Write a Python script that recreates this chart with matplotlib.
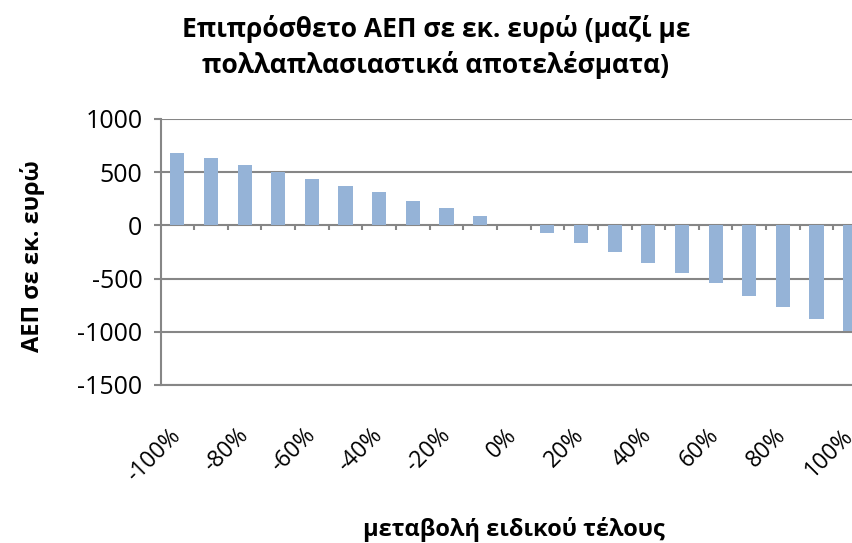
import numpy as np
import matplotlib.pyplot as plt

plt.rcParams['font.family'] = ['Open Sans', 'DejaVu Sans']
plt.rcParams['axes.unicode_minus'] = False

# μεταβολή ειδικού τέλους από -100% έως 100% ανά 10%
changes = list(range(-100, 101, 10))
gdp = [678, 632, 569, 501, 438, 373, 311, 230, 165, 84,
       0,
       -72, -168, -250, -349, -448, -546, -667, -765, -876, -995]
labels = ['%d%%' % c for c in changes]

bar_color = '#95B3D7'
grid_color = '#868686'

fig = plt.figure(figsize=(8.52, 5.43), dpi=100)
W, H = 852, 543
left, right, top, bottom = 160.5, 867, 119, 385
ax = fig.add_axes([left / W, 1 - bottom / H, (right - left) / W, (bottom - top) / H])

x = np.arange(len(changes))
ax.bar(x, gdp, width=0.42, color=bar_color, edgecolor='#B8CCE4', linewidth=0, zorder=3)

ax.set_xlim(-0.5, len(changes) - 0.5)
ax.set_ylim(-1500, 1000)
ax.set_yticks(np.arange(-1500, 1001, 500))
ax.yaxis.grid(True, color=grid_color, linewidth=1.5)
ax.set_axisbelow(True)

for s in ['top', 'right']:
    ax.spines[s].set_visible(False)
ax.spines['left'].set_color(grid_color)
ax.spines['left'].set_linewidth(1.5)
ax.spines['bottom'].set_color(grid_color)
ax.spines['bottom'].set_linewidth(1.5)

ax.tick_params(axis='y', direction='out', length=5, width=1.5, color=grid_color,
               labelsize=18, pad=8)

# ετικέτες κατηγοριών κάτω, ανά δύο
ax.set_xticks(x[::2])
ax.set_xticklabels(labels[::2], rotation=45, ha='right', va='center',
                   rotation_mode='anchor', fontsize=16.5)
ax.tick_params(axis='x', length=0, pad=34)

# γραμμές υποδιαίρεσης πάνω στον άξονα του μηδενός
tick_len = 5 * 2500 / (bottom - top)
ax.vlines(np.arange(0.5, len(changes) - 0.5, 1.0), -tick_len, 0,
          colors=grid_color, linewidth=1.5, zorder=2)

fig.text(436 / W, 1 - 37 / H, 'Επιπρόσθετο ΑΕΠ σε εκ. ευρώ (μαζί με',
         ha='center', va='baseline', fontsize=19, fontweight='bold')
fig.text(436 / W, 1 - 73 / H, 'πολλαπλασιαστικά αποτελέσματα)',
         ha='center', va='baseline', fontsize=19, fontweight='bold')
fig.text(33 / W, 1 - 256 / H, 'ΑΕΠ σε εκ. ευρώ', rotation=90,
         ha='center', va='center', fontsize=17, fontweight='bold')
fig.text(514 / W, 1 - 536 / H, 'μεταβολή ειδικού τέλους',
         ha='center', va='baseline', fontsize=17, fontweight='bold')

fig.savefig('out.png', dpi=100)
